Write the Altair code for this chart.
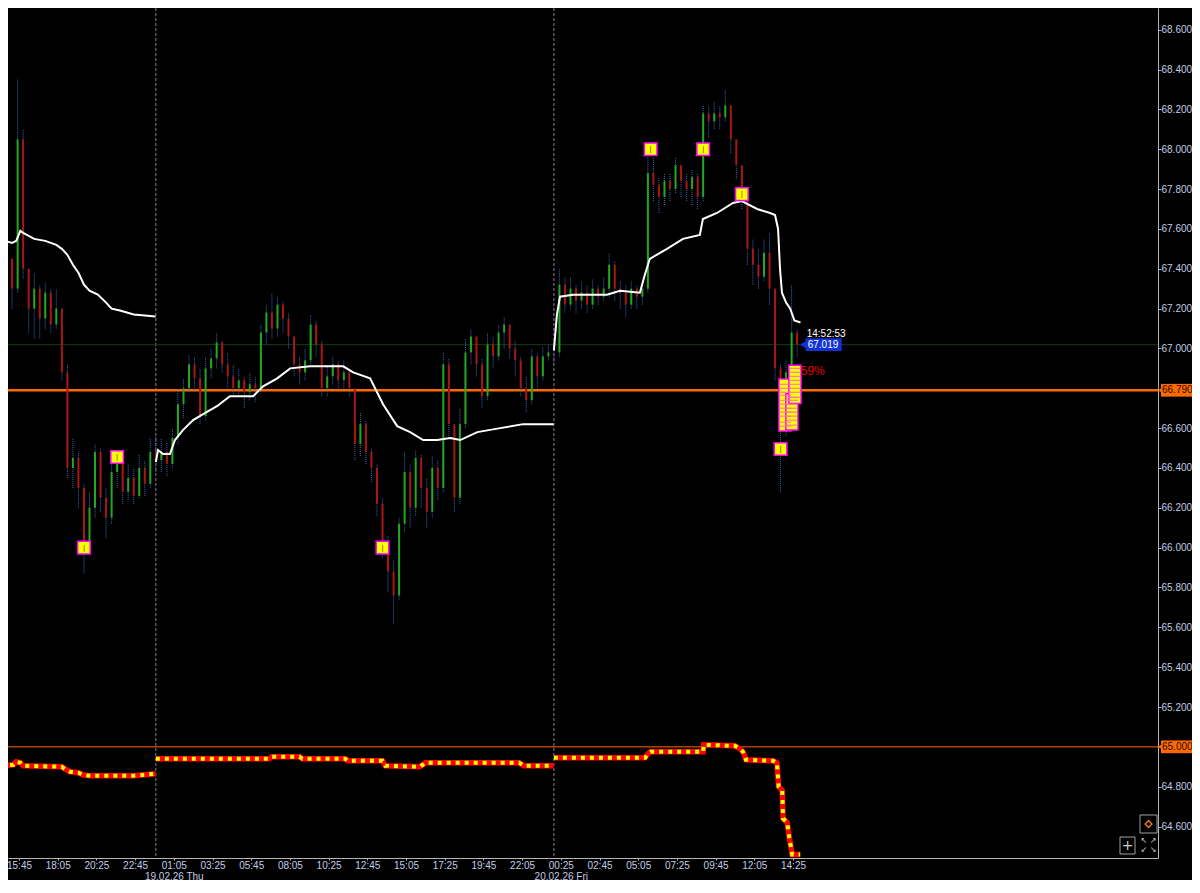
import altair as alt
import pandas as pd

# ---------------- data ----------------
SESSION_STARTS = ["2026-02-18 14:40", "2026-02-19 00:00", "2026-02-20 00:00"]
BAR_MINUTES = 20
first_open = 67.20

s1_close = [66.80, 67.45, 67.30, 68.05, 67.40, 67.20, 67.30, 67.15, 67.28, 67.12,
            67.20, 66.88, 66.40, 66.45, 66.30, 66.02, 66.20, 66.48, 66.25, 66.15,
            66.38, 66.42, 66.28, 66.35, 66.26, 66.40, 66.32, 66.48]
s1_high = [67.25, 67.52, 67.45, 68.35, 68.10, 67.40, 67.38, 67.32, 67.33, 67.30,
           67.30, 67.20, 66.92, 66.55, 66.48, 66.32, 66.28, 66.52, 66.50, 66.30,
           66.44, 66.48, 66.44, 66.42, 66.40, 66.47, 66.44, 66.55]
s1_low = [66.73, 66.80, 67.20, 67.28, 67.35, 67.08, 67.05, 67.05, 67.10, 67.08,
          67.10, 66.84, 66.35, 66.30, 66.20, 65.87, 65.98, 66.15, 66.18, 66.05,
          66.12, 66.30, 66.22, 66.24, 66.22, 66.25, 66.26, 66.30]

s2_close = [66.44, 66.48, 66.42, 66.55, 66.72, 66.80, 66.92, 66.85, 66.66, 66.90,
            66.95, 67.03, 66.92, 66.86, 66.80, 66.84, 66.78, 66.82, 66.80, 67.08,
            67.18, 67.10, 67.22, 67.15, 67.06, 66.92, 66.88, 66.94, 67.12, 67.02,
            66.80, 66.86, 66.92, 66.84, 66.88, 66.80, 66.52, 66.62, 66.48, 66.40,
            66.22, 66.02, 65.88, 65.76, 66.12, 66.38, 66.20, 66.45, 66.30, 66.18,
            66.40, 66.30, 66.92, 66.62, 66.25, 66.62, 66.98, 67.06, 66.92, 66.76,
            67.02, 66.96, 67.08, 67.12, 67.00, 66.94, 66.80, 66.74, 66.96, 66.86,
            66.96, 66.98]
s2_high = [66.56, 66.55, 66.53, 66.60, 66.80, 66.85, 66.97, 66.96, 66.90, 66.96,
           67.00, 67.08, 67.04, 66.98, 66.92, 66.90, 66.86, 66.88, 66.86, 67.12,
           67.22, 67.28, 67.26, 67.24, 67.18, 67.06, 66.96, 67.00, 67.17, 67.14,
           67.04, 66.92, 66.96, 66.94, 66.94, 66.90, 66.80, 66.68, 66.64, 66.50,
           66.42, 66.25, 66.06, 65.94, 66.15, 66.48, 66.42, 66.49, 66.47, 66.35,
           66.46, 66.44, 66.98, 66.95, 66.62, 66.70, 67.05, 67.10, 67.06, 66.95,
           67.08, 67.06, 67.12, 67.16, 67.12, 67.04, 66.96, 66.86, 67.00, 66.98,
           67.01, 67.02]
s2_low = [66.38, 66.38, 66.36, 66.40, 66.52, 66.65, 66.78, 66.78, 66.62, 66.64,
          66.85, 66.90, 66.88, 66.80, 66.76, 66.76, 66.70, 66.74, 66.73, 66.78,
          67.02, 67.05, 67.06, 67.08, 67.00, 66.86, 66.82, 66.84, 66.92, 66.96,
          66.76, 66.76, 66.82, 66.80, 66.80, 66.76, 66.44, 66.46, 66.42, 66.33,
          66.16, 65.95, 65.78, 65.62, 65.74, 66.08, 66.10, 66.16, 66.20, 66.10,
          66.15, 66.24, 66.28, 66.55, 66.18, 66.22, 66.60, 66.92, 66.86, 66.70,
          66.74, 66.90, 66.94, 67.00, 66.95, 66.86, 66.76, 66.68, 66.72, 66.80,
          66.84, 66.94]

s3_close = [66.98, 67.32, 67.22, 67.30, 67.24, 67.28, 67.22, 67.30, 67.26, 67.30,
            67.42, 67.30, 67.28, 67.22, 67.30, 67.26, 67.30, 67.88, 67.82, 67.76,
            67.84, 67.80, 67.92, 67.84, 67.80, 67.86, 67.76, 68.18, 68.14, 68.18,
            68.16, 68.22, 68.05, 67.92, 67.78, 67.50, 67.42, 67.36, 67.48, 67.30,
            66.90, 66.58, 66.88, 67.08, 67.02]
s3_high = [67.03, 67.40, 67.36, 67.36, 67.32, 67.34, 67.32, 67.35, 67.32, 67.36,
           67.48, 67.44, 67.34, 67.32, 67.34, 67.32, 67.34, 68.00, 67.96, 67.86,
           67.88, 67.88, 67.96, 67.90, 67.88, 67.90, 67.88, 68.22, 68.22, 68.24,
           68.22, 68.30, 68.22, 68.04, 67.92, 67.72, 67.55, 67.50, 67.55, 67.58,
           67.30, 66.92, 66.94, 67.32, 67.10]
s3_low = [66.92, 66.96, 67.18, 67.20, 67.18, 67.20, 67.18, 67.20, 67.22, 67.24,
          67.26, 67.24, 67.20, 67.16, 67.20, 67.20, 67.22, 67.28, 67.74, 67.68,
          67.72, 67.74, 67.78, 67.76, 67.74, 67.72, 67.70, 67.74, 68.06, 68.10,
          68.10, 68.14, 67.98, 67.85, 67.70, 67.42, 67.32, 67.30, 67.34, 67.22,
          66.84, 66.28, 66.56, 66.86, 66.96]

# session average (white line)
vwap1_times = ["2026-02-18 14:40", "2026-02-18 14:55", "2026-02-18 15:20", "2026-02-18 15:35",
               "2026-02-18 15:50", "2026-02-18 16:00", "2026-02-18 16:40", "2026-02-18 17:20",
               "2026-02-18 18:00", "2026-02-18 18:20", "2026-02-18 18:40", "2026-02-18 19:00",
               "2026-02-18 19:20", "2026-02-18 19:40", "2026-02-18 20:00", "2026-02-18 20:30",
               "2026-02-18 21:00", "2026-02-18 21:20", "2026-02-18 21:50", "2026-02-18 22:40",
               "2026-02-18 23:59"]
vwap1_vals = [67.59, 67.54, 67.53, 67.54, 67.59, 67.58, 67.55, 67.54, 67.52, 67.50, 67.47,
              67.42, 67.38, 67.32, 67.29, 67.27, 67.23, 67.20, 67.19, 67.17, 67.16]
vwap2_times = ["2026-02-19 00:00", "2026-02-19 00:08", "2026-02-19 00:26", "2026-02-19 00:51",
               "2026-02-19 01:09", "2026-02-19 01:38", "2026-02-19 02:15", "2026-02-19 02:51",
               "2026-02-19 03:41", "2026-02-19 04:28", "2026-02-19 05:52", "2026-02-19 06:28",
               "2026-02-19 07:19", "2026-02-19 08:06", "2026-02-19 09:18", "2026-02-19 11:18",
               "2026-02-19 11:54", "2026-02-19 12:55", "2026-02-19 13:42", "2026-02-19 14:33",
               "2026-02-19 15:20", "2026-02-19 16:07", "2026-02-19 16:58", "2026-02-19 17:45",
               "2026-02-19 18:21", "2026-02-19 19:23", "2026-02-19 20:46", "2026-02-19 22:09",
               "2026-02-19 23:59"]
vwap2_vals = [66.43, 66.49, 66.47, 66.47, 66.54, 66.59, 66.64, 66.67, 66.71, 66.76, 66.76,
              66.81, 66.85, 66.90, 66.91, 66.91, 66.88, 66.85, 66.72, 66.61, 66.58, 66.54,
              66.54, 66.55, 66.54, 66.58, 66.60, 66.62, 66.62]
vwap3_times = ["2026-02-20 00:00", "2026-02-20 00:11", "2026-02-20 00:22", "2026-02-20 01:09",
               "2026-02-20 03:12", "2026-02-20 03:59", "2026-02-20 05:11", "2026-02-20 05:29",
               "2026-02-20 05:47", "2026-02-20 06:49", "2026-02-20 07:47", "2026-02-20 08:48",
               "2026-02-20 08:59", "2026-02-20 09:50", "2026-02-20 10:48", "2026-02-20 11:20",
               "2026-02-20 12:15", "2026-02-20 13:02", "2026-02-20 13:20", "2026-02-20 13:31",
               "2026-02-20 13:38", "2026-02-20 13:45", "2026-02-20 14:00", "2026-02-20 14:15",
               "2026-02-20 14:30", "2026-02-20 14:52"]
vwap3_vals = [66.99, 67.17, 67.26, 67.27, 67.27, 67.29, 67.28, 67.37, 67.45, 67.50, 67.55,
              67.57, 67.65, 67.68, 67.73, 67.74, 67.70, 67.68, 67.67, 67.60, 67.40, 67.28,
              67.23, 67.20, 67.14, 67.13]

# lower indicator (red / yellow)
ind1_times = ["2026-02-18 14:40", "2026-02-18 15:25", "2026-02-18 15:35", "2026-02-18 15:50",
              "2026-02-18 16:00", "2026-02-18 18:20", "2026-02-18 18:30", "2026-02-18 18:50",
              "2026-02-18 19:20", "2026-02-18 19:35", "2026-02-18 20:00", "2026-02-18 22:40",
              "2026-02-18 23:20", "2026-02-18 23:59"]
ind1_vals = [64.905, 64.91, 64.925, 64.92, 64.905, 64.90, 64.89, 64.875, 64.87, 64.86,
             64.855, 64.855, 64.86, 64.865]
ind2_times = ["2026-02-19 00:00", "2026-02-19 06:50", "2026-02-19 07:00", "2026-02-19 08:40",
              "2026-02-19 08:50", "2026-02-19 11:25", "2026-02-19 11:35", "2026-02-19 13:40",
              "2026-02-19 13:50", "2026-02-19 15:55", "2026-02-19 16:15", "2026-02-19 21:55",
              "2026-02-19 22:10", "2026-02-19 23:59"]
ind2_vals = [64.94, 64.94, 64.95, 64.95, 64.94, 64.94, 64.93, 64.93, 64.905, 64.90, 64.92,
             64.92, 64.905, 64.905]
ind3_times = ["2026-02-20 00:00", "2026-02-20 05:30", "2026-02-20 05:40", "2026-02-20 05:50",
              "2026-02-20 09:00", "2026-02-20 09:02", "2026-02-20 10:55", "2026-02-20 11:13",
              "2026-02-20 11:24", "2026-02-20 11:35", "2026-02-20 13:13", "2026-02-20 13:27",
              "2026-02-20 13:33", "2026-02-20 13:46", "2026-02-20 13:49", "2026-02-20 14:04",
              "2026-02-20 14:11", "2026-02-20 14:22", "2026-02-20 14:51"]
ind3_vals = [64.945, 64.945, 64.965, 64.975, 64.975, 65.01, 65.005, 64.99, 64.975, 64.935,
             64.93, 64.92, 64.80, 64.78, 64.64, 64.62, 64.55, 64.46, 64.46]

# swing markers
marker_times = ["2026-02-18 19:40", "2026-02-18 21:40", "2026-02-19 13:40", "2026-02-20 05:50",
                "2026-02-20 09:00", "2026-02-20 11:20", "2026-02-20 13:40"]
marker_vals = [66.00, 66.455, 66.00, 68.00, 68.00, 67.775, 66.495]

# profile boxes near the last price
box_t1 = ["2026-02-20 13:34", "2026-02-20 13:59", "2026-02-20 14:10"]
box_t2 = ["2026-02-20 14:18", "2026-02-20 14:43", "2026-02-20 14:54"]
box_lo = [66.585, 66.590, 66.723]
box_hi = [66.847, 66.773, 66.916]
stripe_box = [0, 0, 0, 0, 0, 0, 0, 0, 0, 0, 0, 1, 1, 1, 1, 1, 1, 1, 1, 2, 2, 2, 2, 2, 2, 2, 2]
stripe_vals = [66.82, 66.80, 66.78, 66.765, 66.74, 66.72, 66.70, 66.68, 66.66, 66.63, 66.61,
               66.755, 66.74, 66.72, 66.70, 66.68, 66.66, 66.64, 66.615,
               66.90, 66.88, 66.86, 66.84, 66.82, 66.80, 66.78, 66.755]

last_time = "2026-02-20 14:52:53"
last_price = 67.019
pct_text = "59%"
pct_price = 66.885
level_main = 66.79
level_low = 65.00
session_breaks = ["2026-02-19 00:00", "2026-02-20 00:00"]

TICK_TIMES = ["2026-02-18 15:45", "2026-02-18 18:05", "2026-02-18 20:25", "2026-02-18 22:45",
              "2026-02-19 01:05", "2026-02-19 03:25", "2026-02-19 05:45", "2026-02-19 08:05",
              "2026-02-19 10:25", "2026-02-19 12:45", "2026-02-19 15:05", "2026-02-19 17:25",
              "2026-02-19 19:45", "2026-02-19 22:05", "2026-02-20 00:25", "2026-02-20 02:45",
              "2026-02-20 05:05", "2026-02-20 07:25", "2026-02-20 09:45", "2026-02-20 12:05",
              "2026-02-20 14:25"]
DAY_LABELS = {"2026-02-19 01:05": "19.02.26 Thu", "2026-02-20 00:25": "20.02.26 Fri"}
Y_TICKS = [68.6, 68.4, 68.2, 68.0, 67.8, 67.6, 67.4, 67.2, 67.0, 66.6, 66.4, 66.2, 66.0,
           65.8, 65.6, 65.4, 65.2, 64.8, 64.6]

X_DOMAIN = ["2026-02-18 15:05:12", "2026-02-21 12:25:24"]
Y_DOMAIN = [64.442, 68.709]
PLOT_W, PLOT_H = 1150, 850
PAD_R, PAD_B = 34, 22


def ms(s):
    return int(pd.Timestamp(s, tz="UTC").value // 1_000_000)


MIN = 60_000

# ---------------- tables ----------------
rows = []
prev = first_open
for start, cs, hs, ls in zip(SESSION_STARTS, [s1_close, s2_close, s3_close],
                             [s1_high, s2_high, s3_high], [s1_low, s2_low, s3_low]):
    t0 = ms(start)
    for k, (c, h, l) in enumerate(zip(cs, hs, ls)):
        o = prev
        rows.append(dict(t=t0 + k * BAR_MINUTES * MIN, o=o, c=c,
                         h=max(h, o, c), l=min(l, o, c), up=bool(c >= o)))
        prev = c
candles = pd.DataFrame(rows)

vwap = pd.concat([
    pd.DataFrame(dict(t=[ms(s) for s in ts], v=vs, s=i))
    for i, (ts, vs) in enumerate([(vwap1_times, vwap1_vals), (vwap2_times, vwap2_vals),
                                  (vwap3_times, vwap3_vals)])
])
ind = pd.concat([
    pd.DataFrame(dict(t=[ms(s) for s in ts], v=vs, s=i))
    for i, (ts, vs) in enumerate([(ind1_times, ind1_vals), (ind2_times, ind2_vals),
                                  (ind3_times, ind3_vals)])
])
markers = pd.DataFrame(dict(t=[ms(s) for s in marker_times], v=marker_vals))
boxes = pd.DataFrame(dict(t1=[ms(s) for s in box_t1], t2=[ms(s) for s in box_t2],
                          lo=box_lo, hi=box_hi))
stripes = pd.DataFrame(dict(t1=[ms(box_t1[b]) for b in stripe_box],
                            t2=[ms(box_t2[b]) for b in stripe_box], v=stripe_vals))
breaks = pd.DataFrame(dict(t=[ms(s) for s in session_breaks]))

HALF = 0.032  # half height of price tags, in price units
lt = ms(last_time)
last_df = pd.DataFrame(dict(t=[lt], tb1=[lt + 18 * MIN], tb2=[lt + 148 * MIN],
                            ta=[lt + 8 * MIN], v=[last_price],
                            v1=[last_price - HALF], v2=[last_price + HALF],
                            lab=[f"{last_price:.3f}"], clock=[last_time[-8:]]))
pct_df = pd.DataFrame(dict(t=[lt], v=[pct_price], lab=[pct_text]))
levels = pd.DataFrame(dict(v=[level_main, level_low], v1=[level_main - HALF, level_low - HALF],
                           v2=[level_main + HALF, level_low + HALF],
                           lab=[f"{level_main:.3f}", f"{level_low:.3f}"],
                           w=[2.5, 1.0]))
one = pd.DataFrame(dict(k=[0]))

# ---------------- scales / axes ----------------
LABEL_COLOR = "#c4cce6"
AXIS_COLOR = "#b4b4b4"
FONT = "Liberation Sans"
xscale = alt.Scale(type="utc", domain=[ms(d) for d in X_DOMAIN], nice=False)
yscale = alt.Scale(domain=Y_DOMAIN, nice=False, zero=False)

expr = "utcFormat(datum.value, '%H:%M')"
for k, lab in DAY_LABELS.items():
    expr = (f"time(datum.value) == {ms(k)} ? [utcFormat(datum.value, '%H:%M'), '{lab}'] : "
            + expr)

x_axis = alt.Axis(values=[ms(t) for t in TICK_TIMES], labelExpr=expr, grid=False,
                  domainColor=AXIS_COLOR, tickColor=AXIS_COLOR, tickSize=2,
                  labelColor=LABEL_COLOR, labelFont=FONT, labelFontSize=10,
                  labelPadding=0, labelFlush=False, labelOverlap=False,
                  labelLineHeight=11)
y_axis = alt.Axis(orient="right", values=Y_TICKS, format=".3f", grid=False,
                  domainColor=AXIS_COLOR, tickColor=AXIS_COLOR, tickSize=3,
                  labelColor=LABEL_COLOR, labelFont=FONT, labelFontSize=10,
                  labelPadding=0, labelOverlap=False, labelFlush=False)


def X(f="t"):
    return alt.X(f"{f}:T", scale=xscale, axis=x_axis, title="")


def Y(f="v"):
    return alt.Y(f"{f}:Q", scale=yscale, axis=y_axis, title="")


# ---------------- layers ----------------
break_rules = alt.Chart(breaks).mark_rule(color="#8c8098", strokeDash=[3, 2], strokeWidth=1).encode(
    x=X())

last_line = alt.Chart(last_df).mark_rule(color="#123c12", strokeWidth=1).encode(y=Y())

level_lines = alt.Chart(levels).mark_rule(color="#ff6a00").encode(
    y=Y(), strokeWidth=alt.StrokeWidth("w:Q", scale=None, legend=None))

wicks = alt.Chart(candles).mark_rule(color="#3a66b8", strokeWidth=1, strokeDash=[1, 1]).encode(
    x=X(), y=Y("l"), y2="h:Q")

bodies = alt.Chart(candles).mark_rule(strokeWidth=2).encode(
    x=X(), y=Y("o"), y2="c:Q",
    color=alt.condition(alt.datum.up, alt.value("#22a822"), alt.value("#a81616")))

vwap_lines = alt.Chart(vwap).mark_line(color="#ffffff", strokeWidth=2).encode(
    x=X(), y=Y(), detail="s:N")

ind_red = alt.Chart(ind).mark_line(color="#ff0000", strokeWidth=5.5).encode(
    x=X(), y=Y(), detail="s:N")
ind_yel = alt.Chart(ind).mark_line(color="#ffff00", strokeWidth=4, strokeDash=[4, 5]).encode(
    x=X(), y=Y(), detail="s:N")

box_rects = alt.Chart(boxes).mark_rect(fill="#ffff00", stroke="#ff00ff", strokeWidth=1.5).encode(
    x=X("t1"), x2="t2:T", y=Y("lo"), y2="hi:Q")
box_stripes = alt.Chart(stripes).mark_rule(color="#ff66cc", strokeWidth=1).encode(
    x=X("t1"), x2="t2:T", y=Y())

marker_pts = alt.Chart(markers).mark_point(shape="square", size=160, filled=True,
                                           fill="#ffff00", stroke="#ff00ff",
                                           strokeWidth=1.5, opacity=1).encode(x=X(), y=Y())
marker_glyph = alt.Chart(markers).mark_text(text="|", color="#5a4a00", fontSize=8,
                                            font=FONT).encode(x=X(), y=Y())

pct_label = alt.Chart(pct_df).mark_text(align="left", baseline="middle", color="#e00000",
                                        fontSize=12, font=FONT).encode(x=X(), y=Y(), text="lab:N")

clock_label = alt.Chart(last_df).mark_text(align="left", baseline="middle", color="#ffffff",
                                           fontSize=10, font=FONT, dx=6, dy=-11).encode(
    x=X(), y=Y(), text="clock:N")
price_box = alt.Chart(last_df).mark_rect(color="#1232d8").encode(
    x=X("tb1"), x2="tb2:T", y=Y("v1"), y2="v2:Q")
price_arrow = alt.Chart(last_df).mark_point(shape="triangle-left", size=50, filled=True,
                                            color="#1232d8", opacity=1).encode(x=X("ta"), y=Y())
price_text = alt.Chart(last_df).mark_text(align="left", baseline="middle", color="#ffffff",
                                          fontSize=10, font=FONT, dx=7).encode(
    x=X(), y=Y(), text="lab:N")

tag_box = alt.Chart(levels).mark_rect(color="#ff6a00").encode(
    x=alt.value(PLOT_W + 3), x2=alt.value(PLOT_W + PAD_R), y=Y("v1"), y2="v2:Q")
tag_arrow = alt.Chart(levels).mark_point(shape="triangle-left", size=60, filled=True,
                                         color="#ff6a00", opacity=1).encode(
    x=alt.value(PLOT_W + 3), y=Y())
tag_text = alt.Chart(levels).mark_text(align="left", baseline="middle", color="#1a0a00",
                                       fontSize=10, font=FONT).encode(
    x=alt.value(PLOT_W + 4), y=Y(), text="lab:N")

# ---- small toolbar widgets in the lower right corner ----
UI = "#a0a0a0"
ui_tag_box = alt.Chart(one).mark_rect(fill="#000000", stroke=UI, strokeWidth=1).encode(
    x=alt.value(PLOT_W - 18), x2=alt.value(PLOT_W - 1),
    y=alt.value(PLOT_H - 43), y2=alt.value(PLOT_H - 25))
ui_tag_glyph = alt.Chart(one).mark_point(shape="diamond", filled=False, color="#e07020",
                                         strokeWidth=1.5, size=45, opacity=1).encode(
    x=alt.value(PLOT_W - 9.5), y=alt.value(PLOT_H - 34))
ui_cross_box = alt.Chart(one).mark_rect(fill="#000000", stroke=UI, strokeWidth=1).encode(
    x=alt.value(PLOT_W - 38), x2=alt.value(PLOT_W - 23),
    y=alt.value(PLOT_H - 21), y2=alt.value(PLOT_H - 4))
ui_cross = alt.Chart(one).mark_text(text="+", color="#d0d0d0", fontSize=14,
                                    font="DejaVu Sans").encode(
    x=alt.value(PLOT_W - 30.5), y=alt.value(PLOT_H - 12.5))
ui_arrows_top = alt.Chart(one).mark_text(text="↖ ↗", color="#d0d0d0", fontSize=8,
                                         font="DejaVu Sans").encode(
    x=alt.value(PLOT_W - 9.5), y=alt.value(PLOT_H - 17))
ui_arrows_bot = alt.Chart(one).mark_text(text="↙ ↘", color="#d0d0d0", fontSize=8,
                                         font="DejaVu Sans").encode(
    x=alt.value(PLOT_W - 9.5), y=alt.value(PLOT_H - 8))

chart = alt.layer(
    break_rules, last_line, level_lines, wicks, bodies, vwap_lines,
    ind_red, ind_yel, box_rects, box_stripes, marker_pts, marker_glyph, pct_label,
    price_box, price_arrow, price_text, clock_label, tag_box, tag_arrow, tag_text,
    ui_tag_box, ui_tag_glyph, ui_cross_box, ui_cross, ui_arrows_top, ui_arrows_bot,
).properties(
    width=PLOT_W, height=PLOT_H,
    padding={"left": 0, "top": 0, "right": PAD_R, "bottom": PAD_B},
    autosize=alt.AutoSizeParams(type="none"),
    background="#000000",
).configure_view(strokeWidth=0)

chart.save("out.html", embed_options={"renderer": "svg", "actions": False})
